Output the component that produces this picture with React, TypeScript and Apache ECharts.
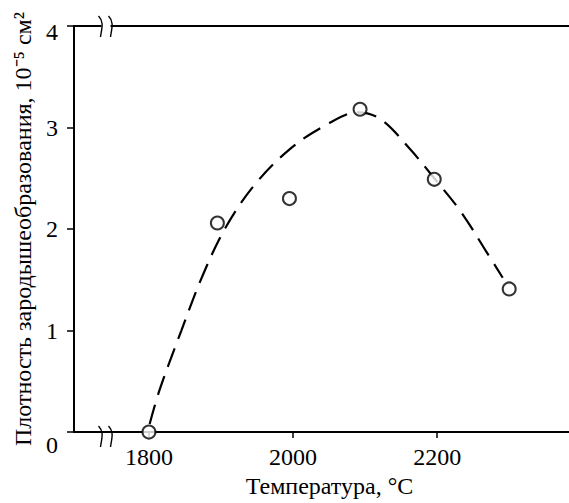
import React, { useEffect, useRef } from "react";
import * as echarts from "echarts";

const xTickValues = [1800, 2000, 2200];
const yTickValues = [0, 1, 2, 3, 4];
const pointX = [1800, 1895, 1995, 2093, 2196, 2300];
const pointY = [0.0, 2.06, 2.3, 3.18, 2.49, 1.41];
const curveX = [1801, 1815, 1845, 1875, 1906, 1946, 1996, 2047, 2090, 2122, 2162, 2196, 2233, 2268, 2291];
const curveY = [0.08, 0.42, 1.0, 1.55, 2.01, 2.43, 2.79, 3.03, 3.15, 3.08, 2.79, 2.5, 2.17, 1.78, 1.52];
const xTitle = "Температура, °C";
const yTitle = "Плотность зародышеобразования, 10⁻⁵ см²";

const FONT = "'Liberation Serif', 'Times New Roman', serif";
const FS = 24;

function breakMark(x: number, y: number) {
  const s = { stroke: "#000", lineWidth: 1.4, fill: "none" };
  return [
    { type: "rect", shape: { x: x + 1, y: y - 3, width: 9, height: 6 }, style: { fill: "#fff" }, z: 100 },
    {
      type: "bezierCurve",
      shape: { x1: x - 2, y1: y - 10, cpx1: x + 4, cpy1: y - 4, cpx2: x + 1, cpy2: y + 3, x2: x, y2: y + 11 },
      style: s,
      z: 101,
    },
    {
      type: "bezierCurve",
      shape: { x1: x + 8, y1: y - 10, cpx1: x + 14, cpy1: y - 4, cpx2: x + 11, cpy2: y + 3, x2: x + 10, y2: y + 11 },
      style: s,
      z: 101,
    },
  ];
}

export default function App() {
  const ref = useRef<HTMLDivElement>(null);
  useEffect(() => {
    document.body.style.margin = "0";
    const chart = echarts.init(ref.current!, null, { renderer: "svg" });
    const txt = { fontFamily: FONT, fontSize: FS, color: "#000" };
    chart.setOption({
      animation: false,
      backgroundColor: "#fff",
      textStyle: { fontFamily: FONT },
      grid: { left: 74, right: 0, top: 26, bottom: 67, containLabel: false },
      xAxis: [
        {
          type: "value",
          min: 1696,
          max: 2383,
          position: "bottom",
          splitLine: { show: false },
          axisLine: { show: true, onZero: false, lineStyle: { color: "#000", width: 2 } },
          axisTick: { show: true, length: 6, lineStyle: { color: "#000", width: 1.5 }, customValues: xTickValues },
          axisLabel: { ...txt, margin: 13, customValues: xTickValues, formatter: (v: number) => String(v) },
          name: xTitle,
          nameLocation: "middle",
          nameGap: 37,
          nameTextStyle: { ...txt, padding: [0, 0, 0, 16] },
        },
        {
          type: "value",
          min: 1696,
          max: 2383,
          position: "top",
          splitLine: { show: false },
          axisLine: { show: true, onZero: false, lineStyle: { color: "#000", width: 2 } },
          axisTick: { show: false },
          axisLabel: { show: false },
        },
      ],
      yAxis: {
        type: "value",
        min: 0,
        max: 4,
        interval: 1,
        splitLine: { show: false },
        axisLine: { show: true, onZero: false, lineStyle: { color: "#000", width: 2 } },
        axisTick: { show: true, length: 7, lineStyle: { color: "#000", width: 1.5 }, customValues: yTickValues },
        axisLabel: {
          ...txt,
          margin: 16,
          formatter: (v: number) => (v === 4 ? "{a|4}" : v === 0 ? "{b|0}" : String(v)),
          rich: {
            a: { fontFamily: FONT, fontSize: FS, color: "#000", padding: [12, 0, 0, 0] },
            b: { fontFamily: FONT, fontSize: FS, color: "#000", padding: [26, 0, 0, 0] },
          },
        },
        name: yTitle,
        nameLocation: "middle",
        nameRotate: 90,
        nameGap: 39,
        nameTextStyle: txt,
      },
      series: [
        {
          type: "line",
          xAxisIndex: 0,
          data: curveX.map((x, i) => [x, curveY[i]]),
          smooth: 0.35,
          showSymbol: false,
          symbol: "none",
          lineStyle: { color: "#000", width: 2.2, type: [20, 10] },
          z: 2,
        },
        {
          type: "scatter",
          xAxisIndex: 0,
          data: pointX.map((x, i) => [x, pointY[i]]),
          symbol: "circle",
          symbolSize: 13,
          itemStyle: { color: "#fff", borderColor: "#000", borderWidth: 2 },
          z: 5,
        },
      ],
      graphic: [...breakMark(100.5, 26), ...breakMark(100.5, 436)],
    });
    return () => chart.dispose();
  }, []);
  return <div ref={ref} style={{ position: "absolute", left: 0, top: 0, width: 569, height: 503 }} />;
}
